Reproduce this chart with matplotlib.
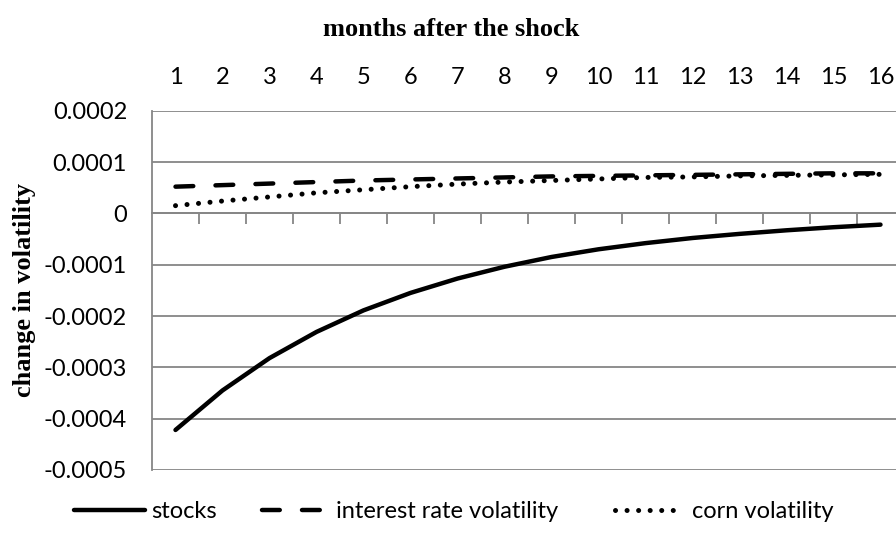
import matplotlib.pyplot as plt
from matplotlib.ticker import FixedLocator, FuncFormatter

months = list(range(1, 17))
stocks = [-0.000422, -0.000345, -0.000282, -0.000231, -0.000189, -0.000155,
          -0.000127, -0.000104, -0.000085, -0.000070, -0.000058, -0.000048,
          -0.000040, -0.000033, -0.000027, -0.000022]
interest = [0.000052, 0.000055, 0.000058, 0.000061, 0.000064, 0.000066,
            0.000068, 0.000070, 0.000072, 0.000073, 0.000074, 0.000075,
            0.000076, 0.000077, 0.000078, 0.000078]
corn = [0.000015, 0.000024, 0.000032, 0.000040, 0.000046, 0.000052,
        0.000057, 0.000061, 0.000064, 0.000067, 0.000070, 0.000071,
        0.000073, 0.000074, 0.000075, 0.000076]
yticks = [0.0002, 0.0001, 0, -0.0001, -0.0002, -0.0003, -0.0004, -0.0005]

sans = ['Lato', 'DejaVu Sans']
serif = ['Liberation Serif', 'DejaVu Serif']
grey = '#868686'


def main():
    fig = plt.figure(figsize=(8.96, 5.4), dpi=100)
    ax = fig.add_axes([152 / 896, 1 - 470 / 540, 752 / 896, (470 - 110.7) / 540])

    l1, = ax.plot(months, stocks, color='black', lw=3.2, solid_capstyle='round',
                  solid_joinstyle='round')
    l2, = ax.plot(months, interest, color='black', lw=3.2, linestyle=(0, (4.0, 5.0)),
                  dash_capstyle='round')
    l3, = ax.plot(months, corn, color='black', lw=3.6, linestyle=(0, (0.01, 2.3)),
                  dash_capstyle='round')

    ax.set_xlim(0.5, 16.5)
    ax.set_ylim(-0.0005, 0.0002)
    ax.yaxis.set_major_locator(FixedLocator(yticks))
    ax.yaxis.set_major_formatter(FuncFormatter(lambda v, p: '0' if abs(v) < 1e-12 else f'{v:.4f}'))
    ax.grid(axis='y', color=grey, lw=1.3)
    ax.set_axisbelow(True)

    for s in ['top', 'right']:
        ax.spines[s].set_visible(False)
    ax.spines['left'].set_color(grey)
    ax.spines['left'].set_linewidth(1.3)
    ax.spines['bottom'].set_position(('data', 0))
    ax.spines['bottom'].set_color(grey)
    ax.spines['bottom'].set_linewidth(1.3)

    ax.xaxis.set_major_locator(FixedLocator(months))
    ax.xaxis.set_minor_locator(FixedLocator([m + 0.5 for m in months]))
    ax.tick_params(axis='x', which='major', bottom=False, top=False,
                   labelbottom=False, labeltop=True, pad=13, labelsize=17)
    ax.tick_params(axis='x', which='minor', bottom=True, length=8, width=1.3,
                   color=grey, direction='out')
    ax.tick_params(axis='y', length=0, pad=18, labelsize=17)
    for lab in ax.get_xticklabels() + ax.get_yticklabels():
        lab.set_family(sans)

    fig.text(0.504, 1 - 30 / 540, 'months after the shock', ha='center', va='center',
             family=serif, fontweight='bold', fontsize=19)
    fig.text(25 / 896, 1 - 290 / 540, 'change in volatility', ha='center', va='center',
             rotation=90, family=serif, fontweight='bold', fontsize=19)

    # separate legends so each key can have its own length and gap
    leg_kw = dict(frameon=False, loc='center left', prop={'family': sans, 'size': 17},
                  borderpad=0, borderaxespad=0)
    fig.legend([l1], ['stocks'], bbox_to_anchor=(74 / 896, 1 - 512 / 540),
               handlelength=3.0, handletextpad=0.25, **leg_kw)
    fig.legend([l2], ['interest rate volatility'], bbox_to_anchor=(262 / 896, 1 - 512 / 540),
               handlelength=2.6, handletextpad=0.55, **leg_kw)
    fig.legend([l3], ['corn volatility'], bbox_to_anchor=(615 / 896, 1 - 512 / 540),
               handlelength=2.55, handletextpad=0.7, **leg_kw)

    fig.savefig('out.png', dpi=100)


if __name__ == '__main__':
    main()
